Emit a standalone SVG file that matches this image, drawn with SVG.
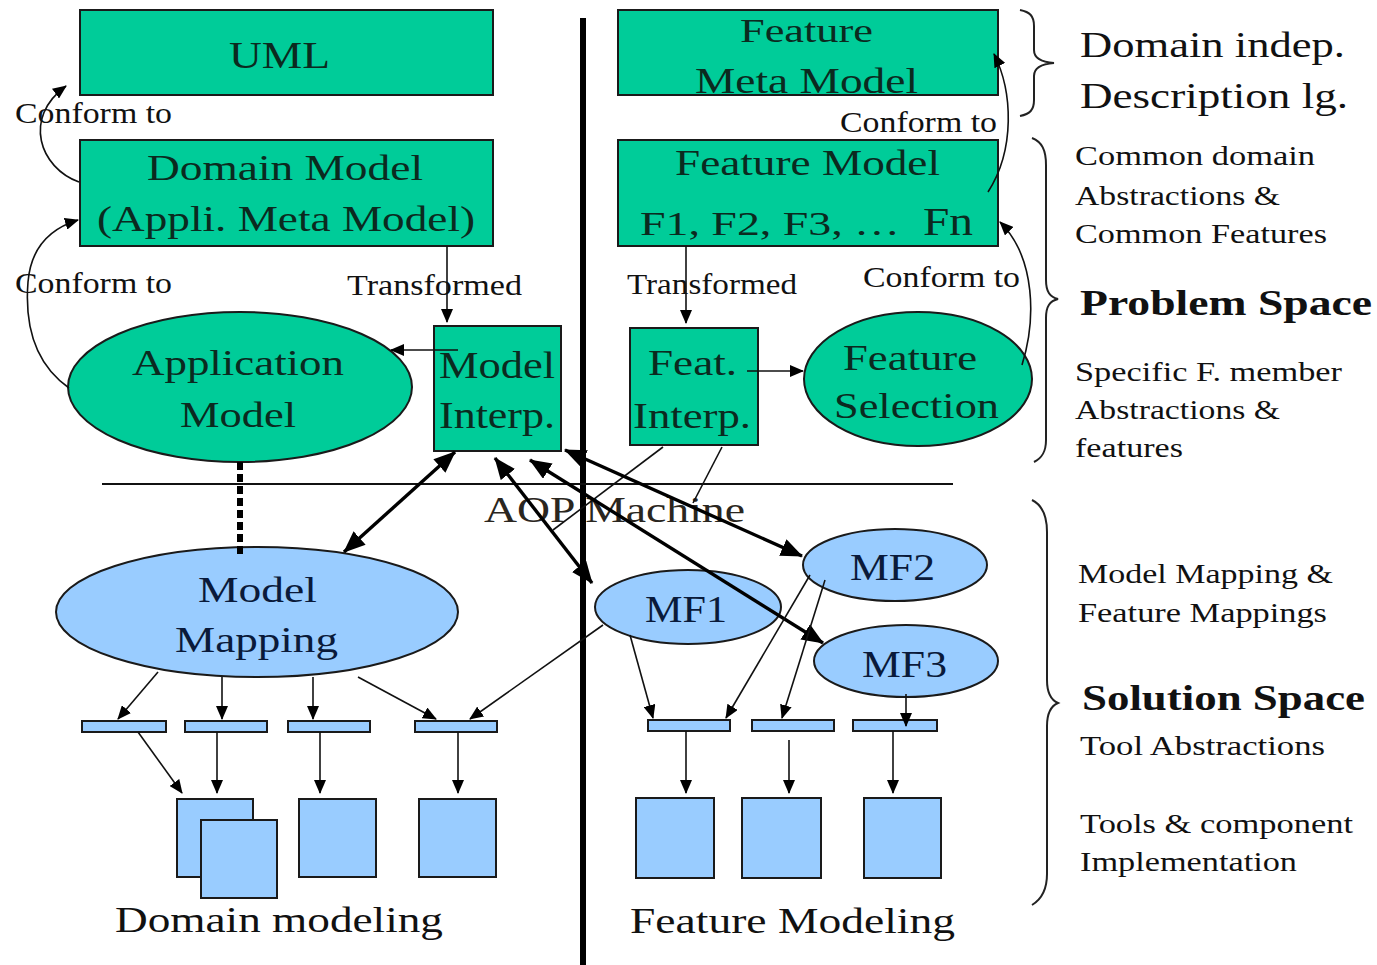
<svg xmlns="http://www.w3.org/2000/svg" width="1377" height="965" viewBox="0 0 1377 965" font-family="Liberation Serif, Times New Roman, serif">
<style>
text{font-family:'Liberation Serif','Times New Roman',serif;}
.g{fill:#00CC99;stroke:#1a1a1a;stroke-width:2;}
.b{fill:#99CCFF;stroke:#1a1a1a;stroke-width:2;}
.tg{fill:#0b2a1f;}
.tb{fill:#0a1a3a;}
.tl{fill:#111;}
.thin{fill:none;stroke:#111;stroke-width:1.6;}
.thick{fill:none;stroke:#000;stroke-width:3.4;}
.aop{fill:#2a2620;}
.brace{fill:none;stroke:#222;stroke-width:2;}
</style>
<defs>
<marker id="a" markerUnits="userSpaceOnUse" markerWidth="14" markerHeight="12" refX="13" refY="6" orient="auto-start-reverse"><path d="M0,0 L14,6 L0,12 Z" fill="#000"/></marker>
<marker id="A" markerUnits="userSpaceOnUse" markerWidth="22" markerHeight="18" refX="21" refY="9" orient="auto-start-reverse"><path d="M0,0 L22,9 L0,18 Z" fill="#000"/></marker>
</defs>
<rect width="1377" height="965" fill="#fff"/>

<g id="divider"><line x1="583" y1="18" x2="583" y2="965" stroke="#000" stroke-width="6"/></g>

<g id="uml"><rect class="g" x="80" y="10" width="413" height="85"/><text class="tg" x="229" y="68" font-size="38" textLength="101" lengthAdjust="spacingAndGlyphs">UML</text></g>
<g id="domain-model"><rect class="g" x="80" y="140" width="413" height="106"/><text class="tg" x="147" y="180" font-size="36" textLength="276" lengthAdjust="spacingAndGlyphs">Domain Model</text><text class="tg" x="97" y="231" font-size="36" textLength="378" lengthAdjust="spacingAndGlyphs">(Appli. Meta Model)</text></g>
<g id="feature-meta-model"><rect class="g" x="618" y="10" width="380" height="85"/><text class="tg" x="740" y="42" font-size="34" textLength="133" lengthAdjust="spacingAndGlyphs">Feature</text><text class="tg" x="695" y="93" font-size="36" textLength="223" lengthAdjust="spacingAndGlyphs">Meta Model</text></g>
<g id="feature-model"><rect class="g" x="618" y="140" width="380" height="106"/><text class="tg" x="675" y="175" font-size="36" textLength="265" lengthAdjust="spacingAndGlyphs">Feature Model</text><text class="tg" x="640" y="235" font-size="34" textLength="260" lengthAdjust="spacingAndGlyphs">F1, F2, F3, …</text><text class="tg" x="923" y="235" font-size="40" textLength="50" lengthAdjust="spacingAndGlyphs">Fn</text></g>
<g id="application-model"><ellipse class="g" cx="240" cy="387" rx="172" ry="75"/><text class="tg" x="132" y="375" font-size="36" textLength="212" lengthAdjust="spacingAndGlyphs">Application</text><text class="tg" x="180" y="427" font-size="36" textLength="116" lengthAdjust="spacingAndGlyphs">Model</text></g>
<g id="model-interp"><rect class="g" x="434" y="326" width="127" height="125"/><text class="tg" x="439" y="378" font-size="37" textLength="116" lengthAdjust="spacingAndGlyphs">Model</text><text class="tg" x="439" y="428" font-size="37" textLength="116" lengthAdjust="spacingAndGlyphs">Interp.</text></g>
<g id="feat-interp"><rect class="g" x="630" y="328" width="128" height="117"/><text class="tg" x="648" y="375" font-size="36" textLength="89" lengthAdjust="spacingAndGlyphs">Feat.</text><text class="tg" x="633" y="428" font-size="36" textLength="118" lengthAdjust="spacingAndGlyphs">Interp.</text></g>
<g id="feature-selection"><ellipse class="g" cx="918" cy="379" rx="114" ry="67"/><text class="tg" x="843" y="370" font-size="36" textLength="134" lengthAdjust="spacingAndGlyphs">Feature</text><text class="tg" x="834" y="418" font-size="36" textLength="165" lengthAdjust="spacingAndGlyphs">Selection</text></g>
<g id="aop-machine"><line x1="102" y1="484" x2="953" y2="484" stroke="#111" stroke-width="2"/><text class="aop" x="484" y="522" font-size="36" textLength="261" lengthAdjust="spacingAndGlyphs">AOP Machine</text></g>
<g id="model-mapping"><ellipse class="b" cx="257" cy="612" rx="201" ry="65"/><text class="tb" x="198" y="602" font-size="36" textLength="119" lengthAdjust="spacingAndGlyphs">Model</text><text class="tb" x="175" y="652" font-size="36" textLength="163" lengthAdjust="spacingAndGlyphs">Mapping</text></g>
<g id="mf2"><ellipse class="b" cx="895" cy="565" rx="92" ry="36"/><text class="tb" x="850" y="580" font-size="38" textLength="85" lengthAdjust="spacingAndGlyphs">MF2</text></g>
<g id="mf1"><ellipse class="b" cx="688" cy="607" rx="93" ry="37"/><text class="tb" x="645" y="622" font-size="38" textLength="82" lengthAdjust="spacingAndGlyphs">MF1</text></g>
<g id="mf3"><ellipse class="b" cx="906" cy="661" rx="92" ry="36"/><text class="tb" x="862" y="677" font-size="38" textLength="85" lengthAdjust="spacingAndGlyphs">MF3</text></g>

<g id="tool-bars">
<rect class="b" x="82" y="721" width="84" height="11"/><rect class="b" x="185" y="721" width="82" height="11"/><rect class="b" x="288" y="721" width="82" height="11"/><rect class="b" x="415" y="721" width="82" height="11"/>
<rect class="b" x="648" y="720" width="82" height="11"/><rect class="b" x="752" y="720" width="82" height="11"/><rect class="b" x="853" y="720" width="84" height="11"/>
</g>
<g id="components">
<rect class="b" x="177" y="799" width="76" height="78"/><rect class="b" x="201" y="820" width="76" height="78"/><rect class="b" x="299" y="799" width="77" height="78"/><rect class="b" x="419" y="799" width="77" height="78"/>
<rect class="b" x="636" y="798" width="78" height="80"/><rect class="b" x="742" y="798" width="79" height="80"/><rect class="b" x="864" y="798" width="77" height="80"/>
</g>

<g id="connectors">
<path class="thin" d="M79,182 C40,168 22,118 66,86" marker-end="url(#a)"/>
<path class="thin" d="M69,388 C32,362 25,320 28,282 C31,246 52,228 78,220" marker-end="url(#a)"/>
<path class="thin" d="M447,246 L447,322" marker-end="url(#a)"/>
<path class="thin" d="M458,350 L391,350" marker-end="url(#a)"/>
<line x1="240" y1="462" x2="240" y2="555" stroke="#000" stroke-width="6" stroke-dasharray="8,4"/>
<path class="thin" d="M686,246 L686,323" marker-end="url(#a)"/>
<path class="thin" d="M747,371 L803,371" marker-end="url(#a)"/>
<path class="thin" d="M1022,365 C1036,320 1036,258 1000,222" marker-end="url(#a)"/>
<path class="thin" d="M988,192 C1015,150 1013,92 994,54" marker-end="url(#a)"/>
<path class="thin" d="M663,447 L553,530"/>
<path class="thin" d="M722,447 L693,503"/>
<path class="thick" d="M455,452 L344,552" marker-start="url(#A)" marker-end="url(#A)"/>
<path class="thick" d="M495,458 L592,583" marker-start="url(#A)" marker-end="url(#A)"/>
<path class="thick" d="M530,460 L823,643" marker-start="url(#A)" marker-end="url(#A)"/>
<path class="thick" d="M565,450 L802,556" marker-start="url(#A)" marker-end="url(#A)"/>
<path class="thin" d="M158,672 L118,719" marker-end="url(#a)"/>
<path class="thin" d="M222,677 L222,719" marker-end="url(#a)"/>
<path class="thin" d="M313,677 L313,719" marker-end="url(#a)"/>
<path class="thin" d="M358,677 L436,719" marker-end="url(#a)"/>
<path class="thin" d="M603,625 L470,719" marker-end="url(#a)"/>
<path class="thin" d="M138,732 L182,793" marker-end="url(#a)"/>
<path class="thin" d="M217,732 L217,793" marker-end="url(#a)"/>
<path class="thin" d="M320,732 L320,793" marker-end="url(#a)"/>
<path class="thin" d="M458,732 L458,793" marker-end="url(#a)"/>
<path class="thin" d="M630,635 L653,718" marker-end="url(#a)"/>
<path class="thin" d="M810,575 L726,718" marker-end="url(#a)"/>
<path class="thin" d="M825,580 L782,718" marker-end="url(#a)"/>
<path class="thin" d="M906,694 L906,726" marker-end="url(#a)"/>
<path class="thin" d="M686,731 L686,793" marker-end="url(#a)"/>
<path class="thin" d="M789,740 L789,793" marker-end="url(#a)"/>
<path class="thin" d="M893,731 L893,793" marker-end="url(#a)"/>
</g>

<g id="labels">
<text class="tl" x="15" y="123" font-size="29" textLength="157" lengthAdjust="spacingAndGlyphs">Conform to</text>
<text class="tl" x="15" y="293" font-size="29" textLength="157" lengthAdjust="spacingAndGlyphs">Conform to</text>
<text class="tl" x="840" y="132" font-size="29" textLength="157" lengthAdjust="spacingAndGlyphs">Conform to</text>
<text class="tl" x="863" y="287" font-size="29" textLength="157" lengthAdjust="spacingAndGlyphs">Conform to</text>
<text class="tl" x="347" y="295" font-size="29" textLength="175" lengthAdjust="spacingAndGlyphs">Transformed</text>
<text class="tl" x="627" y="294" font-size="29" textLength="170" lengthAdjust="spacingAndGlyphs">Transformed</text>
<text class="tl" x="115" y="932" font-size="36" textLength="328" lengthAdjust="spacingAndGlyphs">Domain modeling</text>
<text class="tl" x="630" y="933" font-size="36" textLength="325" lengthAdjust="spacingAndGlyphs">Feature Modeling</text>
</g>

<g id="legend">
<path class="brace" d="M1020,10 C1030,12 1034,16 1034,26 L1034,50 C1034,58 1040,62 1054,63 C1040,64 1034,68 1034,76 L1034,100 C1034,110 1030,114 1020,116"/>
<path class="brace" d="M1032,138 C1042,142 1046,150 1046,165 L1046,280 C1046,292 1050,297 1058,299 C1050,301 1046,306 1046,318 L1046,440 C1046,452 1042,458 1034,462"/>
<path class="brace" d="M1032,500 C1042,505 1047,515 1047,532 L1047,680 C1047,694 1051,700 1058,703 C1051,706 1047,712 1047,726 L1047,874 C1047,890 1042,899 1032,905"/>
<text class="tl" x="1080" y="57" font-size="36" textLength="265" lengthAdjust="spacingAndGlyphs">Domain indep.</text>
<text class="tl" x="1080" y="108" font-size="36" textLength="268" lengthAdjust="spacingAndGlyphs">Description lg.</text>
<text class="tl" x="1075" y="165" font-size="27" textLength="240" lengthAdjust="spacingAndGlyphs">Common domain</text>
<text class="tl" x="1075" y="205" font-size="27" textLength="205" lengthAdjust="spacingAndGlyphs">Abstractions &amp;</text>
<text class="tl" x="1075" y="243" font-size="27" textLength="252" lengthAdjust="spacingAndGlyphs">Common Features</text>
<text class="tl" x="1080" y="315" font-size="36" font-weight="bold" textLength="292" lengthAdjust="spacingAndGlyphs">Problem Space</text>
<text class="tl" x="1075" y="381" font-size="27" textLength="267" lengthAdjust="spacingAndGlyphs">Specific F. member</text>
<text class="tl" x="1075" y="419" font-size="27" textLength="205" lengthAdjust="spacingAndGlyphs">Abstractions &amp;</text>
<text class="tl" x="1075" y="457" font-size="27" textLength="108" lengthAdjust="spacingAndGlyphs">features</text>
<text class="tl" x="1078" y="583" font-size="27" textLength="255" lengthAdjust="spacingAndGlyphs">Model Mapping &amp;</text>
<text class="tl" x="1078" y="622" font-size="27" textLength="249" lengthAdjust="spacingAndGlyphs">Feature Mappings</text>
<text class="tl" x="1082" y="710" font-size="36" font-weight="bold" textLength="283" lengthAdjust="spacingAndGlyphs">Solution Space</text>
<text class="tl" x="1080" y="755" font-size="28" textLength="245" lengthAdjust="spacingAndGlyphs">Tool Abstractions</text>
<text class="tl" x="1080" y="833" font-size="28" textLength="273" lengthAdjust="spacingAndGlyphs">Tools &amp; component</text>
<text class="tl" x="1080" y="871" font-size="28" textLength="217" lengthAdjust="spacingAndGlyphs">Implementation</text>
</g>
</svg>
